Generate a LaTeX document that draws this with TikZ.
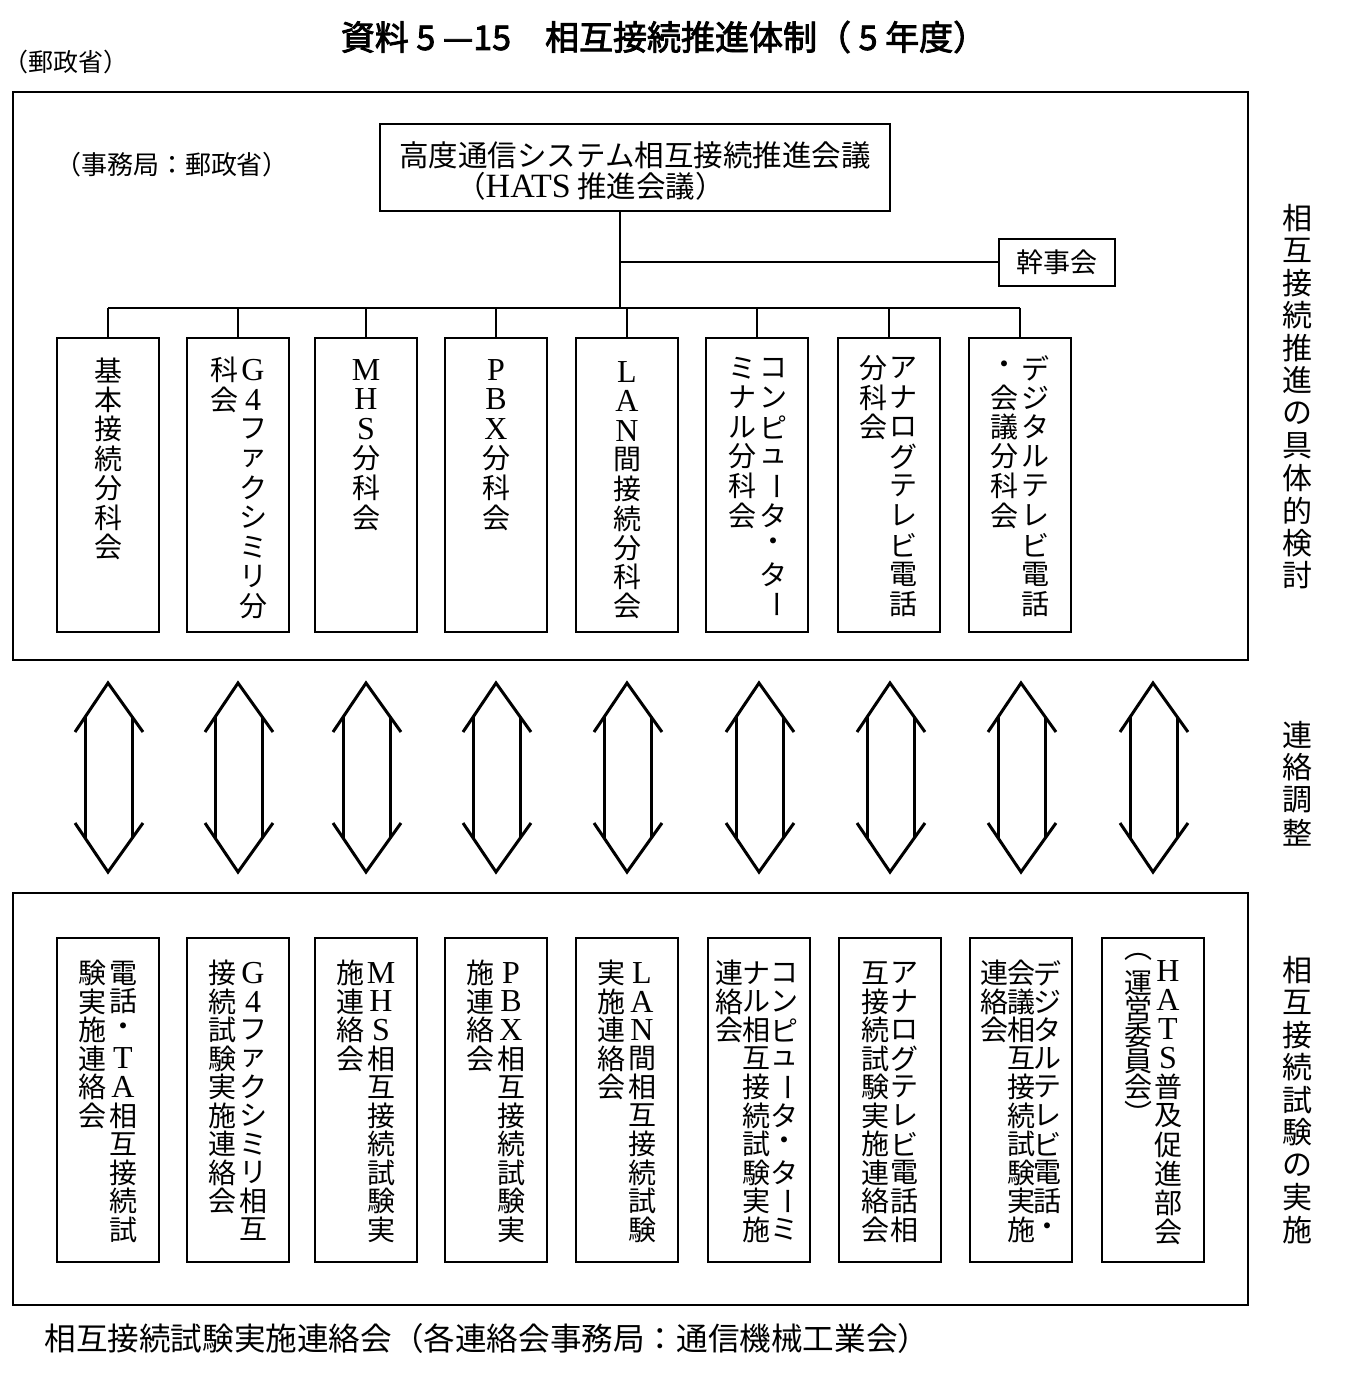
\documentclass[tikz,border=0pt]{standalone}
\usepackage{fontspec}
\newfontfamily\jp{Noto Sans CJK JP}
\newfontfamily\jpb[FakeBold=2.5]{Noto Sans CJK JP}
\newfontfamily\lat{Liberation Serif}
\newcommand\la[1]{{\lat\fontsize{32}{32}\selectfont #1}}
\newcommand\vbar{\rotatebox[origin=c]{-90}{ー}}
\newcommand\vcol[6][vch]{\foreach \ch [count=\i from 0] in {#6} {\node[#1] (#2-\i) at ({#3},{#4+\i*#5}) {\ch};}}
\tikzset{
 vch/.style={inner sep=0pt, font=\jp\fontsize{28}{28}\selectfont},
 rlab/.style={inner sep=0pt, font=\jp\fontsize{30}{30}\selectfont},
 ubox/.style={draw, line width=2pt, inner sep=0pt, minimum width=102pt, minimum height=294pt},
 lbox/.style={draw, line width=2pt, inner sep=0pt, minimum width=102pt, minimum height=324pt},
 frame/.style={draw, line width=2pt, inner sep=0pt, minimum width=1235pt},
 conn/.style={line width=2pt},
 arrw/.style={line width=3pt},
 dbl/.pic={
  \draw[arrw] (-33,49) -- (0,0) -- (35,49);
  \draw[arrw] (-23,34) -- (-23,155);
  \draw[arrw] (24,34) -- (24,155);
  \draw[arrw] (-33,140) -- (0,189) -- (35,140);
 }
}
\begin{document}
\begin{tikzpicture}[x=1pt,y=-1pt]
\useasboundingbox (0,0) rectangle (1345,1377);
% title
\node[inner sep=0pt, font=\jpb\fontsize{34}{34}\selectfont] (title) at (664,37) {資料 5 —15\hspace{1em}相互接続推進体制（ 5 年度）};
\node[inner sep=0pt, font=\jp\fontsize{25}{25}\selectfont] (yusei) at (66,62) {（郵政省）};
% frames
\node[frame, minimum height=568pt] (upper) at (630.5,376) {};
\node[frame, minimum height=412pt] (lower) at (630.5,1099) {};
% top part
\node[inner sep=0pt, font=\jp\fontsize{26}{26}\selectfont] (jimu) at (172,165) {（事務局：郵政省）};
\node[draw, line width=2pt, inner sep=0pt, minimum width=510pt, minimum height=87pt] (main) at (635,167.5) {};
\node[inner sep=0pt, font=\jp\fontsize{29.5}{29.5}\selectfont] (m1) at (635,155) {高度通信システム相互接続推進会議};
\node[inner sep=0pt, anchor=west, font=\jp\fontsize{29.5}{29.5}\selectfont] (m2) at (456,186) {（{\lat\fontsize{34}{34}\selectfont HATS} 推進会議）};
\node[draw, line width=2pt, inner sep=0pt, minimum width=116pt, minimum height=47pt, font=\jp\fontsize{27}{27}\selectfont] (kanji) at (1057,262) {幹事会};
% sub committees
\foreach \k/\cx in {1/108,2/238,3/366,4/496,5/627,6/757,7/889,8/1020} {\node[ubox] (s\k) at (\cx,485) {};}
\coordinate (tx) at (620,0);
\coordinate (busy) at (0,308);
\draw[conn] (main.south -| tx) -- (tx |- busy);
\draw[conn] (tx |- kanji) -- (kanji.west);
\draw[conn] (s1.north |- busy) -- (s8.north |- busy);
\foreach \k in {1,...,8} {\draw[conn] (s\k.north) -- (s\k.north |- busy);}
\vcol{a1}{108}{370}{29.5}{基,本,接,続,分,科,会}
\vcol{a2r}{253}{370}{29.5}{\la{G},\la{4},フ,ァ,ク,シ,ミ,リ,分}
\vcol{a2l}{224}{370}{29.5}{科,会}
\vcol{a3}{366}{370}{29.5}{\la{M},\la{H},\la{S},分,科,会}
\vcol{a4}{496}{370}{29.5}{\la{P},\la{B},\la{X},分,科,会}
\vcol{a5}{627}{372}{29.3}{\la{L},\la{A},\la{N},間,接,続,分,科,会}
\vcol{a6r}{773}{368}{29.5}{コ,ン,ピ,ュ,\vbar,タ,・,タ,\vbar}
\vcol{a6l}{742}{368}{29.5}{ミ,ナ,ル,分,科,会}
\vcol{a7r}{903}{368}{29.5}{ア,ナ,ロ,グ,テ,レ,ビ,電,話}
\vcol{a7l}{873}{368}{29.5}{分,科,会}
\vcol{a8r}{1035}{368}{29.5}{デ,ジ,タ,ル,テ,レ,ビ,電,話}
\vcol{a8l}{1004}{368}{29.5}{・,会,議,分,科,会}
% lower boxes
\foreach \k/\cx in {1/108,2/238,3/366,4/496,5/627,6/759,7/890,8/1021,9/1153} {\node[lbox] (t\k) at (\cx,1100) {};}
\vcol{b1r}{123}{973}{28.5}{電,話,・,\la{T},\la{A},相,互,接,続,試}
\vcol{b1l}{92}{973}{28.5}{験,実,施,連,絡,会}
\vcol{b2r}{253}{973}{28.5}{\la{G},\la{4},フ,ァ,ク,シ,ミ,リ,相,互}
\vcol{b2l}{222}{973}{28.5}{接,続,試,験,実,施,連,絡,会}
\vcol{b3r}{381}{973}{28.5}{\la{M},\la{H},\la{S},相,互,接,続,試,験,実}
\vcol{b3l}{350}{973}{28.5}{施,連,絡,会}
\vcol{b4r}{511}{973}{28.5}{\la{P},\la{B},\la{X},相,互,接,続,試,験,実}
\vcol{b4l}{480}{973}{28.5}{施,連,絡,会}
\vcol{b5r}{642}{973}{28.5}{\la{L},\la{A},\la{N},間,相,互,接,続,試,験}
\vcol{b5l}{611}{973}{28.5}{実,施,連,絡,会}
\vcol{b6r}{784}{973}{28.5}{コ,ン,ピ,ュ,\vbar,タ,・,タ,\vbar,ミ}
\vcol{b6m}{756}{973}{28.5}{ナ,ル,相,互,接,続,試,験,実,施}
\vcol{b6l}{729}{973}{28.5}{連,絡,会}
\vcol{b7r}{904}{973}{28.5}{ア,ナ,ロ,グ,テ,レ,ビ,電,話,相}
\vcol{b7l}{875}{973}{28.5}{互,接,続,試,験,実,施,連,絡,会}
\vcol{b8r}{1047}{973}{28.5}{デ,ジ,タ,ル,テ,レ,ビ,電,話,・}
\vcol{b8m}{1021}{973}{28.5}{会,議,相,互,接,続,試,験,実,施}
\vcol{b8l}{994}{973}{28.5}{連,絡,会}
\vcol{b9r}{1168}{971}{29}{\la{H},\la{A},\la{T},\la{S},普,及,促,進,部,会}
\node[vch] (b9p1) at (1138,957) {︵};
\vcol{b9l}{1138}{983}{26}{運,営,委,員,会}
\node[vch] (b9p2) at (1138,1113) {︶};
% arrows
\coordinate (atop) at (0,683);
\foreach \k in {1,...,9} {\pic at (t\k.north |- atop) {dbl};}
% right labels
\vcol[rlab]{r1}{1297}{218}{32.5}{相,互,接,続,推,進,の,具,体,的,検,討}
\vcol[rlab]{r2}{1297}{735}{32.5}{連,絡,調,整}
\vcol[rlab]{r3}{1297}{970}{32.5}{相,互,接,続,試,験,の,実,施}
% caption
\node[inner sep=0pt, font=\jp\fontsize{31.6}{31.6}\selectfont] (cap) at (487,1338) {相互接続試験実施連絡会（各連絡会事務局：通信機械工業会）};
\end{tikzpicture}
\end{document}
